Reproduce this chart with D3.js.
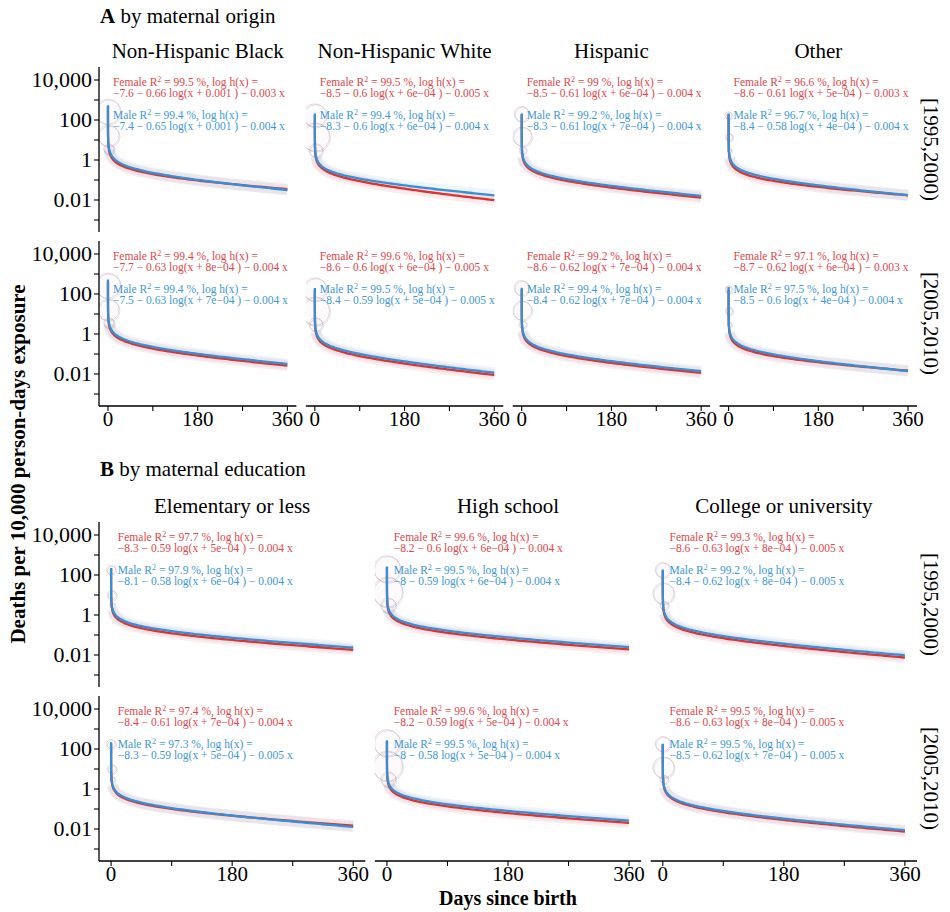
<!DOCTYPE html>
<html>
<head>
<meta charset="utf-8">
<script src="https://cdn.jsdelivr.net/npm/d3@7"></script>
<style>
  body { margin: 0; background: #fff; }
  svg text { font-family: "Liberation Serif", "Times New Roman", serif; }
</style>
</head>
<body>
<div id="chart"></div>
<script>
// facet categories
var origins = ["Non-Hispanic Black", "Non-Hispanic White", "Hispanic", "Other"];
var educations = ["Elementary or less", "High school", "College or university"];
var periods = ["[1995,2000)", "[2005,2010)"];

// fitted model per panel, rows = periods, cols = groups
// [R2 %, a, b, c, d] for log h(x) = a + b log(x + c) + d x
var originFemale = [
  [[99.5, -7.6, -0.66, 0.001, -0.003], [99.5, -8.5, -0.6, 6e-4, -0.005], [99, -8.5, -0.61, 6e-4, -0.004], [96.6, -8.6, -0.61, 5e-4, -0.003]],
  [[99.4, -7.7, -0.63, 8e-4, -0.004], [99.6, -8.6, -0.6, 6e-4, -0.005], [99.2, -8.6, -0.62, 7e-4, -0.004], [97.1, -8.7, -0.62, 6e-4, -0.003]]
];
var originMale = [
  [[99.4, -7.4, -0.65, 0.001, -0.004], [99.4, -8.3, -0.6, 6e-4, -0.004], [99.2, -8.3, -0.61, 7e-4, -0.004], [96.7, -8.4, -0.58, 4e-4, -0.004]],
  [[99.4, -7.5, -0.63, 7e-4, -0.004], [99.5, -8.4, -0.59, 5e-4, -0.005], [99.4, -8.4, -0.62, 7e-4, -0.004], [97.5, -8.5, -0.6, 4e-4, -0.004]]
];
var eduFemale = [
  [[97.7, -8.3, -0.59, 5e-4, -0.004], [99.6, -8.2, -0.6, 6e-4, -0.004], [99.3, -8.6, -0.63, 8e-4, -0.005]],
  [[97.4, -8.4, -0.61, 7e-4, -0.004], [99.6, -8.2, -0.59, 5e-4, -0.004], [99.5, -8.6, -0.63, 8e-4, -0.005]]
];
var eduMale = [
  [[97.9, -8.1, -0.58, 6e-4, -0.004], [99.5, -8, -0.59, 6e-4, -0.004], [99.2, -8.4, -0.62, 8e-4, -0.005]],
  [[97.3, -8.3, -0.59, 5e-4, -0.005], [99.5, -8, -0.58, 5e-4, -0.004], [99.5, -8.5, -0.62, 7e-4, -0.005]]
];

// observed first days (rate per 10,000 person-days, deaths) - the big circles
var obsDays = [0, 1, 2];
var originObsRate = [[260, 16, 3.5], [170, 14, 3], [200, 15, 3], [170, 14, 3]];
var originObsDeaths = [[700, 500, 120], [600, 900, 200], [250, 400, 60], [60, 60, 20]];
var eduObsRate = [[180, 10, 3], [200, 14, 3], [180, 12, 3]];
var eduObsDeaths = [[90, 90, 30], [800, 1000, 250], [250, 500, 80]];

// ticks
var dayTicks = [0, 90, 180, 270, 360];
var dayLabels = ["0", "", "180", "", "360"];
var rateTicks = [1e-3, 1e-2, 1e-1, 1, 10, 100, 1e3, 1e4];
var rateLabels = ["", "0.01", "", "1", "", "100", "", "10,000"];

var width = 950, height = 912;
var red = "#E2302F", blue = "#3690D4";
var redText = "#E0464A", blueText = "#3E97D6";

var svg = d3.select("#chart").append("svg")
  .attr("width", width)
  .attr("height", height);

var left = 99, right = 917, gap = 9.5, panelH = 165, rowGap = 9;

var rScale = d3.scaleSqrt().domain([0, 1000]).range([0, 15]);

// grid of days used to trace the fitted function
var xs = [0, 0.02, 0.05, 0.1, 0.2, 0.35, 0.5, 0.75, 1, 1.5, 2, 3, 4, 6, 8, 10, 14].concat(d3.range(20, 361, 5));

function fmt(v) {
  return String(Math.abs(v));
}
function fmtC(c) {
  if (c >= 0.001) return String(c);
  var s = c.toExponential(0).split("e-");
  return s[0] + "e\u22120" + s[1];
}

function fitted(p) {
  return xs.map(function(t) {
    return [t, 1e4 * Math.exp(p[1] + p[2] * Math.log(t + p[3]) + p[4] * t)];
  });
}

var clipId = 0;

function drawPanel(x0, y0, w, fitF, fitM, obsRate, obsDeaths, showY, showX) {
  var x = d3.scaleLinear().domain([-18, 378]).range([x0, x0 + w]);
  var y = d3.scaleLog().domain([Math.pow(10, -3.6), Math.pow(10, 4.65)]).range([y0 + panelH, y0]);

  clipId++;
  svg.append("clipPath").attr("id", "clip" + clipId)
    .append("rect").attr("x", x0).attr("y", y0).attr("width", w).attr("height", panelH);

  var g = svg.append("g").attr("clip-path", "url(#clip" + clipId + ")");

  var line = d3.line().x(function(d) { return x(d[0]); }).y(function(d) { return y(d[1]); });

  // faint cloud of daily observations around each fit
  [[fitF, red], [fitM, blue]].forEach(function(s) {
    g.append("path")
      .datum(fitted(s[0]).filter(function(d) { return d[0] >= 2; }))
      .attr("d", line)
      .attr("fill", "none")
      .attr("stroke", s[1])
      .attr("stroke-opacity", 0.09)
      .attr("stroke-width", 11);
  });

  // big circles for the first days
  obsDays.forEach(function(day, i) {
    [red, blue].forEach(function(col, k) {
      g.append("circle")
        .attr("cx", x(day) + k)
        .attr("cy", y(obsRate[i]) + k)
        .attr("r", rScale(obsDeaths[i]))
        .attr("fill", col)
        .attr("fill-opacity", 0.015)
        .attr("stroke", col)
        .attr("stroke-opacity", 0.2)
        .attr("stroke-width", 1);
    });
  });

  // fitted lines
  [[fitF, red], [fitM, blue]].forEach(function(s) {
    g.append("path")
      .datum(fitted(s[0]))
      .attr("d", line)
      .attr("fill", "none")
      .attr("stroke", s[1])
      .attr("stroke-width", 2.3);
  });

  // equations
  [[fitF, "Female", redText, Math.pow(10, 3.68)], [fitM, "Male", blueText, Math.pow(10, 2.05)]].forEach(function(s) {
    var p = s[0];
    var tx = x(10), ty = y(s[3]);
    var t1 = svg.append("text").attr("x", tx).attr("y", ty)
      .attr("fill", s[2]).style("font-size", "11.5px");
    t1.append("tspan").text(s[1] + " R");
    t1.append("tspan").attr("dy", -4).style("font-size", "8px").text("2");
    t1.append("tspan").attr("dy", 4).text(" = " + p[0] + "  %, log h(x) =");
    svg.append("text").attr("x", tx).attr("y", ty + 11)
      .attr("fill", s[2]).style("font-size", "11.5px")
      .text("\u2212" + fmt(p[1]) + " \u2212 " + fmt(p[2]) + " log(x + " + fmtC(p[3]) + " ) \u2212 " + fmt(p[4]) + " x");
  });

  if (showY) {
    var ya = svg.append("g");
    ya.append("line").attr("x1", x0).attr("x2", x0).attr("y1", y0).attr("y2", y0 + panelH)
      .attr("stroke", "#000").attr("stroke-width", 1.3);
    rateTicks.forEach(function(v, i) {
      ya.append("line").attr("x1", x0 - 5).attr("x2", x0).attr("y1", y(v)).attr("y2", y(v))
        .attr("stroke", "#000").attr("stroke-width", 1.1);
      if (rateLabels[i]) {
        ya.append("text").attr("x", x0 - 7).attr("y", y(v)).attr("dy", "0.34em")
          .attr("text-anchor", "end").style("font-size", "22px").text(rateLabels[i]);
      }
    });
  }
  if (showX) {
    var xa = svg.append("g");
    xa.append("line").attr("x1", x0).attr("x2", x0 + w).attr("y1", y0 + panelH).attr("y2", y0 + panelH)
      .attr("stroke", "#000").attr("stroke-width", 1.3);
    dayTicks.forEach(function(v, i) {
      xa.append("line").attr("x1", x(v)).attr("x2", x(v)).attr("y1", y0 + panelH).attr("y2", y0 + panelH + 5)
        .attr("stroke", "#000").attr("stroke-width", 1.1);
      if (dayLabels[i]) {
        xa.append("text").attr("x", x(v)).attr("y", y0 + panelH + 20)
          .attr("text-anchor", "middle").style("font-size", "21px").text(dayLabels[i]);
      }
    });
  }
}

function drawBlock(letter, title, titleY, top, groups, fitsF, fitsM, obsRate, obsDeaths) {
  var n = groups.length;
  var w = (right - left - gap * (n - 1)) / n;

  var t = svg.append("text").attr("x", 100).attr("y", titleY).style("font-size", "21px");
  t.append("tspan").style("font-weight", "bold").text(letter);
  t.append("tspan").text(" " + title);

  groups.forEach(function(name, c) {
    var x0 = left + c * (w + gap);
    svg.append("text").attr("x", x0 + w / 2).attr("y", top - 9)
      .attr("text-anchor", "middle").style("font-size", "21px").text(name);
    periods.forEach(function(per, r) {
      var y0 = top + r * (panelH + rowGap);
      drawPanel(x0, y0, w, fitsF[r][c], fitsM[r][c], obsRate[c], obsDeaths[c], c === 0, r === periods.length - 1);
    });
  });

  periods.forEach(function(per, r) {
    var cy = top + r * (panelH + rowGap) + panelH / 2;
    svg.append("text")
      .attr("transform", "translate(924," + cy + ") rotate(90)")
      .attr("text-anchor", "middle").style("font-size", "21px").text(per);
  });
}

drawBlock("A", "by maternal origin", 23, 67, origins, originFemale, originMale, originObsRate, originObsDeaths);
drawBlock("B", "by maternal education", 476, 522, educations, eduFemale, eduMale, eduObsRate, eduObsDeaths);

// shared axis titles
svg.append("text")
  .attr("transform", "translate(25,464) rotate(-90)")
  .attr("text-anchor", "middle")
  .style("font-size", "21px").style("font-weight", "bold")
  .text("Deaths per 10,000 person-days exposure");

svg.append("text")
  .attr("x", (left + right) / 2).attr("y", 905)
  .attr("text-anchor", "middle")
  .style("font-size", "20px").style("font-weight", "bold")
  .text("Days since birth");
</script>
</body>
</html>
